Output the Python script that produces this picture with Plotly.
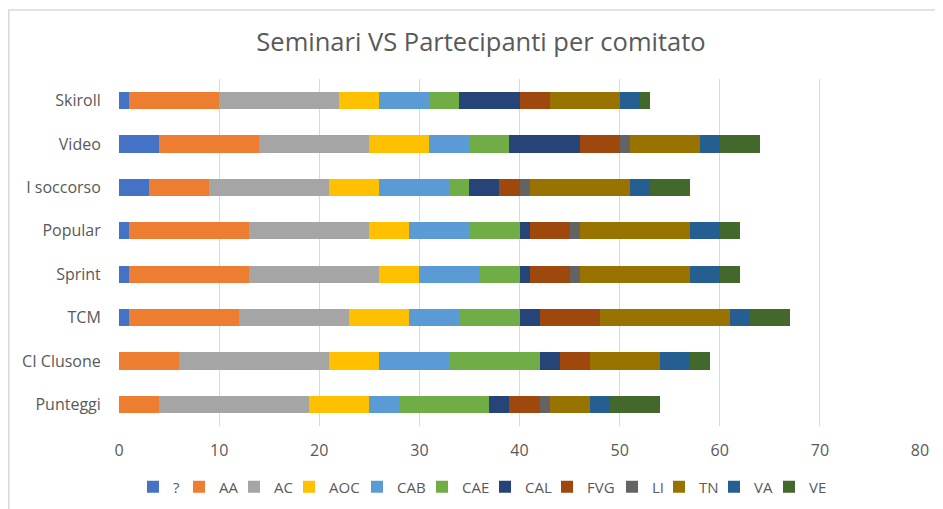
import plotly.graph_objects as go

categories = ["Skiroll", "Video", "I soccorso", "Popular", "Sprint", "TCM", "CI Clusone", "Punteggi"]
series_names = ["?", "AA", "AC", "AOC", "CAB", "CAE", "CAL", "FVG", "LI", "TN", "VA", "VE"]

q   = [1, 4, 3, 1, 1, 1, 0, 0]
aa  = [9, 10, 6, 12, 12, 11, 6, 4]
ac  = [12, 11, 12, 12, 13, 11, 15, 15]
aoc = [4, 6, 5, 4, 4, 6, 5, 6]
cab = [5, 4, 7, 6, 6, 5, 7, 3]
cae = [3, 4, 2, 5, 4, 6, 9, 9]
cal = [6, 7, 3, 1, 1, 2, 2, 2]
fvg = [3, 4, 2, 4, 4, 6, 3, 3]
li  = [0, 1, 1, 1, 1, 0, 0, 1]
tn  = [7, 7, 10, 11, 11, 13, 7, 4]
va  = [2, 2, 2, 3, 3, 2, 3, 2]
ve  = [1, 4, 4, 2, 2, 4, 2, 5]

series_values = [q, aa, ac, aoc, cab, cae, cal, fvg, li, tn, va, ve]
colors = ["#4472C4", "#ED7D31", "#A5A5A5", "#FFC000", "#5B9BD5", "#70AD47",
          "#264478", "#9E480E", "#636363", "#997300", "#255E91", "#43682B"]
# legend entry widths (px) used to tighten the legend spacing
legend_widths = [1, 10, 10, 23, 20, 18, 17, 20, 2, 10, 10, 26]

x_ticks = [0, 10, 20, 30, 40, 50, 60, 70, 80]

fig = go.Figure()
for name, vals, col, lw in zip(series_names, series_values, colors, legend_widths):
    fig.add_trace(go.Bar(
        y=categories, x=vals, name=name, orientation="h",
        marker=dict(color=col, line=dict(width=0)),
        legendwidth=lw,
    ))

# page body has an 8px margin; figure coordinates below are relative to the figure
W, H = 935, 501
L, R, T, B = 111, 23, 71, 83
pw, ph = W - L - R, H - T - B

def px_x(p):
    return (p - L) / pw

def px_y(p):
    return (H - B - p) / ph

fig.update_layout(
    width=W, height=H,
    barmode="stack",
    bargap=0.6,
    plot_bgcolor="white",
    paper_bgcolor="white",
    margin=dict(l=L, r=R, t=T, b=B, autoexpand=False),
    font=dict(family="Open Sans, Noto Sans, sans-serif", color="#595959", size=16),
    title=dict(text="Seminari VS Partecipanti per comitato",
               x=px_x(473), xanchor="center", xref="paper", y=1 - 34 / H, yanchor="middle",
               font=dict(size=25.5, color="#595959")),
    xaxis=dict(range=[0, 80], tickvals=x_ticks, ticktext=[str(v) for v in x_ticks],
               showgrid=True, gridcolor="#D9D9D9", gridwidth=1.3,
               zeroline=False, showline=False,
               ticks="outside", ticklen=10, tickcolor="rgba(0,0,0,0)",
               tickfont=dict(size=16, color="#595959")),
    yaxis=dict(categoryorder="array", categoryarray=categories[::-1],
               showgrid=False, zeroline=False, showline=False,
               ticks="outside", ticklen=14, tickcolor="rgba(0,0,0,0)",
               tickfont=dict(size=16, color="#595959")),
    legend=dict(orientation="h", x=px_x(125), xanchor="left", y=px_y(479), yanchor="middle",
                font=dict(size=15, color="#595959"), traceorder="normal",
                itemwidth=30, tracegroupgap=0, entrywidthmode="pixels"),
    showlegend=True,
    shapes=[dict(type="rect", xref="paper", yref="paper",
                 x0=px_x(0.75), x1=px_x(960), y0=px_y(530), y1=px_y(2),
                 line=dict(color="#D9D9D9", width=1.5), fillcolor="rgba(0,0,0,0)",
                 layer="below")],
)

fig.write_html("out.html")
